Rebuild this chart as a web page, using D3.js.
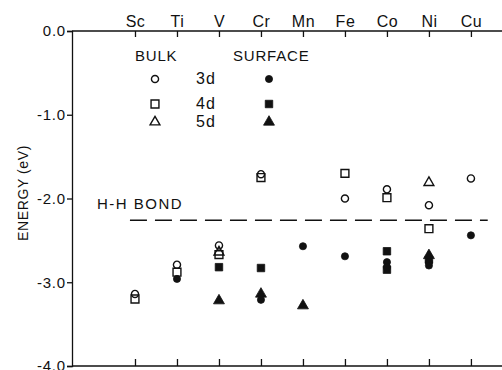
<!DOCTYPE html>
<html>
<head>
<meta charset="utf-8">
<script src="https://cdn.jsdelivr.net/npm/d3@7"></script>
<style>
  body { margin: 0; background: #fff; }
  text { font-family: "Liberation Sans", Arial, sans-serif; fill: #111; }
</style>
</head>
<body>
<script>
var categories = ["Sc", "Ti", "V", "Cr", "Mn", "Fe", "Co", "Ni", "Cu"];
var yTicks = [0, -1, -2, -3, -4];
var hhBond = -2.26;

// [element, energy in eV]
var bulk3d = [["Sc", -3.14], ["Ti", -2.79], ["V", -2.56], ["Cr", -1.71], ["Fe", -2.00], ["Co", -1.89], ["Ni", -2.08], ["Cu", -1.76]];
var bulk4d = [["Sc", -3.20], ["Ti", -2.88], ["V", -2.67], ["Cr", -1.75], ["Fe", -1.70], ["Co", -1.99], ["Ni", -2.36]];
var bulk5d = [["V", -2.64], ["Ni", -1.81]];
var surf3d = [["Ti", -2.96], ["Cr", -3.21], ["Mn", -2.57], ["Fe", -2.69], ["Co", -2.76], ["Co", -2.82], ["Ni", -2.76], ["Ni", -2.80], ["Cu", -2.44]];
var surf4d = [["V", -2.82], ["Cr", -2.83], ["Co", -2.63], ["Co", -2.85], ["Ni", -2.73]];
var surf5d = [["V", -3.22], ["Cr", -3.14], ["Mn", -3.28], ["Ni", -2.68]];

var w = 502, h = 370;
var padLeft = 72, padTop = 31, axisBottom = 366;
var ink = "#111";
var font = "Liberation Sans, Arial, sans-serif";

var svg = d3.select("body").append("svg")
    .attr("width", w)
    .attr("height", h);

// categories sit 42px apart, Sc at 1.5 slots from the left axis
var x = d3.scaleLinear().domain([-1.5, 8.74]).range([padLeft, w]);
var y = d3.scaleLinear().domain([0, -4]).range([padTop, axisBottom]);
function xc(name) { return x(categories.indexOf(name)); }

// left axis, ticks outside
var yAxis = d3.axisLeft(y).tickValues(yTicks).tickSize(5).tickPadding(1)
    .tickFormat(function (d) { return d3.format(".1f")(d).replace("−", "-"); });
var gy = svg.append("g").attr("transform", "translate(" + padLeft + ",0)").call(yAxis);
gy.select(".domain").attr("stroke", ink).attr("stroke-width", 1.3);
gy.selectAll(".tick line").attr("stroke", ink).attr("stroke-width", 1.3);
gy.selectAll("text").attr("font-size", 15).attr("font-family", font).attr("fill", ink)
    .attr("letter-spacing", 0.8);

// top axis with element names, ticks inward
var xTop = d3.axisTop(x).tickValues(d3.range(categories.length)).tickSize(-6).tickPadding(4)
    .tickFormat(function (d) { return categories[d]; });
var gt = svg.append("g").attr("transform", "translate(0," + padTop + ")").call(xTop);
gt.select(".domain").remove();
gt.selectAll(".tick line").attr("stroke", ink).attr("stroke-width", 1.3);
gt.selectAll("text").attr("font-size", 16).attr("font-family", font).attr("fill", ink)
    .attr("letter-spacing", 0.5);

// bottom axis, ticks inward, no labels
var xBot = d3.axisBottom(x).tickValues(d3.range(categories.length)).tickSize(-7).tickFormat("");
var gb = svg.append("g").attr("transform", "translate(0," + axisBottom + ")").call(xBot);
gb.select(".domain").remove();
gb.selectAll(".tick line").attr("stroke", ink).attr("stroke-width", 1.3);

svg.append("line").attr("x1", padLeft).attr("x2", w).attr("y1", padTop).attr("y2", padTop)
    .attr("stroke", ink).attr("stroke-width", 1.3);
svg.append("line").attr("x1", padLeft).attr("x2", w).attr("y1", axisBottom).attr("y2", axisBottom)
    .attr("stroke", ink).attr("stroke-width", 1.3);

// y label
svg.append("text")
    .attr("transform", "translate(28,193) rotate(-90)")
    .attr("text-anchor", "middle")
    .attr("font-size", 14)
    .attr("fill", ink)
    .attr("letter-spacing", 0.6)
    .text("ENERGY (eV)");

// H-H bond line
svg.append("line")
    .attr("x1", x(-0.12)).attr("x2", x(8.4))
    .attr("y1", y(hhBond)).attr("y2", y(hhBond))
    .attr("stroke", ink).attr("stroke-width", 1.6)
    .attr("stroke-dasharray", "17,8");
svg.append("text").attr("x", 97).attr("y", 209).attr("font-size", 15)
    .attr("letter-spacing", 1.5).text("H-H BOND");

// markers
var sym = {
    circle: d3.symbol().type(d3.symbolCircle).size(40),
    square: d3.symbol().type(d3.symbolSquare).size(62),
    triangle: d3.symbol().type(d3.symbolTriangle).size(42)
};
var fsym = {
    circle: d3.symbol().type(d3.symbolCircle).size(40),
    square: d3.symbol().type(d3.symbolSquare).size(56),
    triangle: d3.symbol().type(d3.symbolTriangle).size(52)
};

function plot(data, shape, filled) {
    svg.append("g").selectAll("path")
        .data(data)
        .enter()
        .append("path")
        .attr("d", filled ? fsym[shape] : sym[shape])
        .attr("transform", function (d) {
            return "translate(" + xc(d[0]) + "," + y(d[1]) + ")";
        })
        .attr("fill", filled ? ink : "none")
        .attr("stroke", ink)
        .attr("stroke-width", filled ? 0.8 : 1.4);
}

plot(bulk4d, "square", false);
plot(bulk5d, "triangle", false);
plot(bulk3d, "circle", false);
plot(surf4d, "square", true);
plot(surf5d, "triangle", true);
plot(surf3d, "circle", true);

// legend
var legend = svg.append("g");
legend.append("text").attr("x", 135).attr("y", 61).attr("font-size", 15).attr("letter-spacing", 0.8).text("BULK");
legend.append("text").attr("x", 233).attr("y", 61).attr("font-size", 15).attr("letter-spacing", 0.8).text("SURFACE");
var legRows = [["circle", "3d", 79], ["square", "4d", 104], ["triangle", "5d", 122]];
legRows.forEach(function (r) {
    legend.append("path").attr("d", sym[r[0]]).attr("transform", "translate(155," + r[2] + ")")
        .attr("fill", "none").attr("stroke", ink).attr("stroke-width", 1.4);
    legend.append("path").attr("d", fsym[r[0]]).attr("transform", "translate(269," + r[2] + ")")
        .attr("fill", ink).attr("stroke", ink).attr("stroke-width", 0.8);
    legend.append("text").attr("x", 196).attr("y", r[2] + 5).attr("font-size", 16)
        .attr("letter-spacing", 1).text(r[1]);
});
</script>
</body>
</html>
